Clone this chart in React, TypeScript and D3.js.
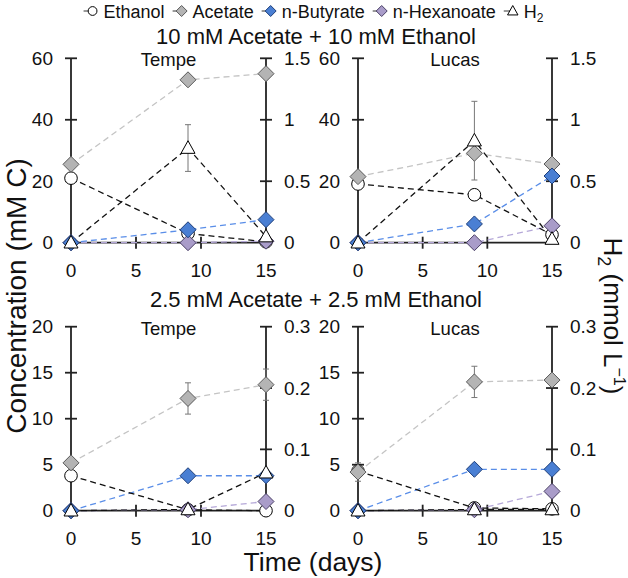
import React from "react";
import * as d3 from "d3";

// ---------- data ----------
const days = [0, 9, 15];
const xTicks = [0, 5, 10, 15];

const topLeftTicks = [0, 20, 40, 60];
const topRightTicks = [0, 0.5, 1, 1.5];
const bottomLeftTicks = [0, 5, 10, 15, 20];
const bottomRightTicks = [0, 0.1, 0.2, 0.3];

const rowTitles = ["10 mM Acetate + 10 mM Ethanol", "2.5 mM Acetate + 2.5 mM Ethanol"];
const siteNames = ["Tempe", "Lucas"];
const seriesNames = ["Ethanol", "Acetate", "n-Butyrate", "n-Hexanoate", "H2"];

// 10 mM, Tempe
const tempe10Ethanol = [21, 3, 0.3];
const tempe10Acetate = [25.5, 53, 55];
const tempe10AcetateErr = [0, 0, 0];
const tempe10Butyrate = [0, 4.2, 7.5];
const tempe10Hexanoate = [0, 0, 0.5];
const tempe10H2 = [0, 0.77, 0.05];
const tempe10H2Err = [0, 0.19, 0];

// 10 mM, Lucas
const lucas10Ethanol = [19.1, 15.6, 2.6];
const lucas10Acetate = [21.5, 29.1, 25.6];
const lucas10AcetateErr = [0, 0, 0];
const lucas10Butyrate = [0, 6.1, 21.7];
const lucas10Hexanoate = [0, 0, 5.5];
const lucas10H2 = [0, 0.83, 0.03];
const lucas10H2Err = [0, 0.32, 0];

// 2.5 mM, Tempe
const tempe25Ethanol = [3.8, 0.1, 0];
const tempe25Acetate = [5.2, 12.2, 13.7];
const tempe25AcetateErr = [0, 1.7, 1.7];
const tempe25Butyrate = [0, 3.8, 3.8];
const tempe25Hexanoate = [0, 0.1, 1.0];
const tempe25H2 = [0, 0.002, 0.062];
const tempe25H2Err = [0, 0, 0];

// 2.5 mM, Lucas
const lucas25Ethanol = [4.3, 0.3, 0.2];
const lucas25Acetate = [4.2, 14.0, 14.2];
const lucas25AcetateErr = [1.0, 1.7, 0.5];
const lucas25Butyrate = [0, 4.5, 4.5];
const lucas25Hexanoate = [0, 0.1, 2.1];
const lucas25H2 = [0, 0.002, 0.002];
const lucas25H2Err = [0, 0, 0];

// ---------- styles ----------
const FONT = "'Liberation Sans', Arial, Helvetica, sans-serif";
const AXIS = "#222";
const COLORS = {
  ethanolLine: "#111",
  acetateFill: "#b4b4b4",
  acetateStroke: "#5a5a5a",
  acetateLine: "#c4c4c4",
  butyrateFill: "#4a7fd3",
  butyrateStroke: "#1f3f7a",
  butyrateLine: "#5a8ee8",
  hexFill: "#a99cc9",
  hexStroke: "#4a3f66",
  hexLine: "#b5a8d8",
  h2Line: "#111",
};

type Panel = {
  row: number;
  col: number;
  leftTicks: number[];
  rightTicks: number[];
  ethanol: number[];
  acetate: number[];
  acetateErr: number[];
  butyrate: number[];
  hexanoate: number[];
  h2: number[];
  h2Err: number[];
};

const panels: Panel[] = [
  { row: 0, col: 0, leftTicks: topLeftTicks, rightTicks: topRightTicks, ethanol: tempe10Ethanol, acetate: tempe10Acetate, acetateErr: tempe10AcetateErr, butyrate: tempe10Butyrate, hexanoate: tempe10Hexanoate, h2: tempe10H2, h2Err: tempe10H2Err },
  { row: 0, col: 1, leftTicks: topLeftTicks, rightTicks: topRightTicks, ethanol: lucas10Ethanol, acetate: lucas10Acetate, acetateErr: lucas10AcetateErr, butyrate: lucas10Butyrate, hexanoate: lucas10Hexanoate, h2: lucas10H2, h2Err: lucas10H2Err },
  { row: 1, col: 0, leftTicks: bottomLeftTicks, rightTicks: bottomRightTicks, ethanol: tempe25Ethanol, acetate: tempe25Acetate, acetateErr: tempe25AcetateErr, butyrate: tempe25Butyrate, hexanoate: tempe25Hexanoate, h2: tempe25H2, h2Err: tempe25H2Err },
  { row: 1, col: 1, leftTicks: bottomLeftTicks, rightTicks: bottomRightTicks, ethanol: lucas25Ethanol, acetate: lucas25Acetate, acetateErr: lucas25AcetateErr, butyrate: lucas25Butyrate, hexanoate: lucas25Hexanoate, h2: lucas25H2, h2Err: lucas25H2Err },
];

// layout
const W = 628;
const H = 578;
const colX = [[71, 266], [358, 552]];
const rowY = [[242.7, 58.3], [510.7, 326.7]];
const TICK = 6;

const diamondPath = (r: number) => `M0,${-r}L${r},0L0,${r}L${-r},0Z`;
const trianglePath = (s: number) => {
  const h = s * 0.9;
  return `M0,${-h * 0.58}L${s / 2},${h * 0.42}L${-s / 2},${h * 0.42}Z`;
};

function measure(text: string, size: number) {
  if (typeof document === "undefined") return text.length * size * 0.55;
  const c = document.createElement("canvas").getContext("2d");
  if (!c) return text.length * size * 0.55;
  c.font = `${size}px 'Liberation Sans', Arial, sans-serif`;
  return c.measureText(text).width;
}

function Marker({ kind, size }: { kind: string; size: number }) {
  if (kind === "Ethanol") return <circle r={size * 0.8} fill="#fff" stroke="#000" strokeWidth={1} />;
  if (kind === "Acetate") return <path d={diamondPath(size)} fill={COLORS.acetateFill} stroke={COLORS.acetateStroke} strokeWidth={1} />;
  if (kind === "n-Butyrate") return <path d={diamondPath(size)} fill={COLORS.butyrateFill} stroke={COLORS.butyrateStroke} strokeWidth={1} />;
  if (kind === "n-Hexanoate") return <path d={diamondPath(size)} fill={COLORS.hexFill} stroke={COLORS.hexStroke} strokeWidth={1} />;
  return <path d={trianglePath(size * 1.9)} fill="#fff" stroke="#000" strokeWidth={1} />;
}

function PanelView({ p }: { p: Panel }) {
  const [x0, x1] = colX[p.col];
  const [yb, yt] = rowY[p.row];
  const x = d3.scaleLinear().domain([0, 15]).range([x0, x1]);
  const yL = d3.scaleLinear().domain([0, d3.max(p.leftTicks) as number]).range([yb, yt]);
  const yR = d3.scaleLinear().domain([0, d3.max(p.rightTicks) as number]).range([yb, yt]);
  const lineL = d3.line<number>().x((_, i) => x(days[i])).y((v) => yL(v));
  const lineR = d3.line<number>().x((_, i) => x(days[i])).y((v) => yR(v));
  const dash = "6,4";
  const fmtR = (v: number) => (v === 0 ? "0" : String(v));

  const errBars = (vals: number[], errs: number[], y: d3.ScaleLinear<number, number>) =>
    vals.map((v, i) =>
      errs[i] > 0 ? (
        <g key={i} stroke="#777" strokeWidth={1}>
          <line x1={x(days[i])} x2={x(days[i])} y1={y(v - errs[i])} y2={y(v + errs[i])} />
          <line x1={x(days[i]) - 3} x2={x(days[i]) + 3} y1={y(v - errs[i])} y2={y(v - errs[i])} />
          <line x1={x(days[i]) - 3} x2={x(days[i]) + 3} y1={y(v + errs[i])} y2={y(v + errs[i])} />
        </g>
      ) : null
    );

  return (
    <g>
      {/* axes */}
      <g stroke={AXIS} strokeWidth={1.8} fill="none">
        <line x1={x0} x2={x0} y1={yt} y2={yb} />
        <line x1={x1} x2={x1} y1={yt} y2={yb} />
        <line x1={x0} x2={x1} y1={yb} y2={yb} />
        {p.leftTicks.map((t) => (
          <line key={"l" + t} x1={x0 - TICK} x2={x0 + TICK} y1={yL(t)} y2={yL(t)} />
        ))}
        {p.rightTicks.map((t) => (
          <line key={"r" + t} x1={x1 - TICK} x2={x1 + TICK} y1={yR(t)} y2={yR(t)} />
        ))}
        {xTicks.filter((t) => t > 0 && t < 15).map((t) => (
          <line key={"x" + t} x1={x(t)} x2={x(t)} y1={yb - TICK} y2={yb + TICK} />
        ))}
      </g>
      <g fontFamily={FONT} fontSize={19} fill="#111">
        {p.leftTicks.map((t) => (
          <text key={"lt" + t} x={x0 - 18} y={yL(t)} dy="0.35em" textAnchor="end">{t}</text>
        ))}
        {p.rightTicks.map((t) => (
          <text key={"rt" + t} x={x1 + 18} y={yR(t)} dy="0.35em" textAnchor="start">{fmtR(t)}</text>
        ))}
        {xTicks.map((t) => (
          <text key={"xt" + t} x={x(t)} y={yb + 34} textAnchor="middle">{t}</text>
        ))}
        <text x={(x0 + x1) / 2} y={yt + 8} fontSize={18.5} textAnchor="middle">{siteNames[p.col]}</text>
      </g>
      {/* lines */}
      <g fill="none" strokeWidth={1.3} strokeDasharray={dash}>
        <path d={lineL(p.acetate) || ""} stroke={COLORS.acetateLine} />
        <path d={lineL(p.hexanoate) || ""} stroke={COLORS.hexLine} />
        <path d={lineL(p.butyrate) || ""} stroke={COLORS.butyrateLine} />
        <path d={lineL(p.ethanol) || ""} stroke={COLORS.ethanolLine} />
        <path d={lineR(p.h2) || ""} stroke={COLORS.h2Line} />
      </g>
      {errBars(p.acetate, p.acetateErr, yL)}
      {errBars(p.h2, p.h2Err, yR)}
      {/* markers */}
      {p.ethanol.map((v, i) => (
        <g key={"e" + i} transform={`translate(${x(days[i])},${yL(v)})`}><circle r={6.3} fill="#fff" stroke="#000" strokeWidth={1} /></g>
      ))}
      {p.acetate.map((v, i) => (
        <g key={"a" + i} transform={`translate(${x(days[i])},${yL(v)})`}><path d={diamondPath(8)} fill={COLORS.acetateFill} stroke={COLORS.acetateStroke} strokeWidth={1} /></g>
      ))}
      {p.hexanoate.map((v, i) => (
        <g key={"h" + i} transform={`translate(${x(days[i])},${yL(v)})`}><path d={diamondPath(8)} fill={COLORS.hexFill} stroke={COLORS.hexStroke} strokeWidth={1} /></g>
      ))}
      {p.butyrate.map((v, i) => (
        <g key={"b" + i} transform={`translate(${x(days[i])},${yL(v)})`}><path d={diamondPath(8)} fill={COLORS.butyrateFill} stroke={COLORS.butyrateStroke} strokeWidth={1} /></g>
      ))}
      {p.h2.map((v, i) => (
        <g key={"t" + i} transform={`translate(${x(days[i])},${yR(v)})`}><path d={trianglePath(14)} fill="#fff" stroke="#000" strokeWidth={1} /></g>
      ))}
    </g>
  );
}

function Legend() {
  const size = 18;
  const toText = 11; // marker centre -> text start
  const toNext = 17; // text end -> next marker centre
  const labels = seriesNames.map((s) => (s === "H2" ? "H" : s));
  const widths = labels.map((l, i) => measure(l, size) + (seriesNames[i] === "H2" ? measure("2", 12) : 0));
  const total = widths.reduce((a, w) => a + toText + w, 0) + toNext * (labels.length - 1);
  let cx = 314 - total / 2 + 4;
  const items = seriesNames.map((s, i) => {
    const c = cx;
    cx += toText + widths[i] + toNext;
    return { s, c, label: labels[i] };
  });
  return (
    <g fontFamily={FONT} fontSize={size} fill="#111">
      {items.map((it) => (
        <g key={it.s}>
          <line x1={it.c - 9} x2={it.c} y1={11} y2={11} stroke="#000" strokeWidth={0.8} />
          <g transform={`translate(${it.c},11)`}>
            <Marker kind={it.s} size={5.5} />
          </g>
          <text x={it.c + toText} y={17.5}>
            {it.label}
            {it.s === "H2" ? <tspan fontSize={12} dy={4}>2</tspan> : null}
          </text>
        </g>
      ))}
    </g>
  );
}

export default function App() {
  return (
    <svg width={W} height={H} style={{ display: "block", position: "absolute", left: 0, top: 0, background: "#fff" }}>
      <rect width={W} height={H} fill="#fff" />
      <Legend />
      <g fontFamily={FONT} fontSize={22} fill="#111" textAnchor="middle">
        <text x={316} y={44}>{rowTitles[0]}</text>
        <text x={316} y={307}>{rowTitles[1]}</text>
      </g>
      {panels.map((p, i) => (
        <PanelView key={i} p={p} />
      ))}
      <g fontFamily={FONT} fill="#111" textAnchor="middle">
        <text fontSize={28} transform="translate(25.5,296) rotate(-90)">Concentration (mM C)</text>
        <text fontSize={26.5} x={313} y={571}>Time (days)</text>
        <text fontSize={26} transform="translate(604,316) rotate(90)">
          H<tspan fontSize={18} dy={6}>2</tspan>
          <tspan dy={-6}> (mmol L</tspan>
          <tspan fontSize={16} dy={-10}>−1</tspan>
          <tspan dy={10}>)</tspan>
        </text>
      </g>
    </svg>
  );
}
